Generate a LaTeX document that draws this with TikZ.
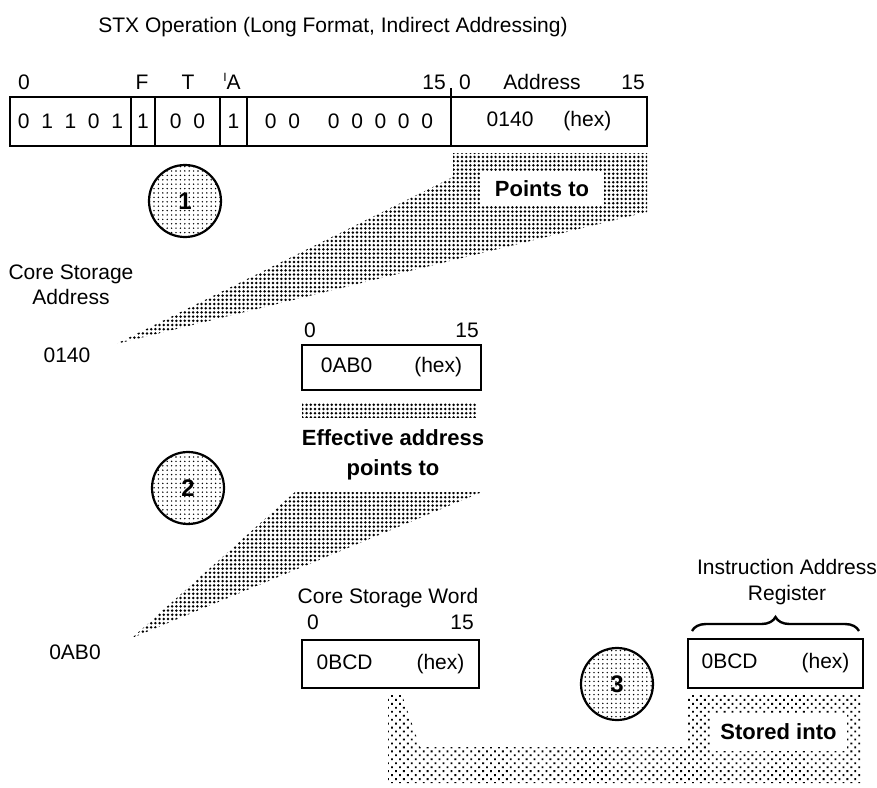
\documentclass[tikz,border=0pt]{standalone}
\usepackage{fontspec}
\setmainfont{Liberation Sans}
\usetikzlibrary{positioning, calc, patterns.meta, decorations.pathreplacing}

\begin{document}
\begin{tikzpicture}[
    x=0.5pt, y=-0.5pt,
    node distance=0pt,
    txt/.style={inner sep=0pt, font=\fontsize{10.5}{12.6}\selectfont},
    note/.style={inner sep=0pt, align=center, font=\fontsize{11}{15}\selectfont\bfseries},
    field/.style={rectangle, draw, line width=1.1pt, outer sep=0pt, inner sep=0pt, minimum height=24.5pt, font=\fontsize{10.5}{12.6}\selectfont},
    stepno/.style={circle, draw, line width=1.1pt, minimum size=36pt, inner sep=0pt, pattern={Dots[distance=2.2pt, radius=0.4pt]}, font=\fontsize{12}{12}\selectfont\bfseries},
    band/.style={pattern={Dots[distance=2.1pt, radius=0.68pt]}},
    checker/.style={pattern={Dots[distance=2.8pt, angle=45, radius=0.65pt]}},
    hole/.style={fill=white, inner sep=0pt, font=\fontsize{11}{13}\selectfont\bfseries}
]
    \fill[white] (0,0) rectangle (877,787);
    \useasboundingbox (0,0) rectangle (877,787);

    \node [txt] (title) at (333,27) {STX Operation (Long Format, Indirect Addressing)};

    % instruction word
    \node [field, minimum width=60.5pt, anchor=west] (opc) at (10,121.5) {0~~1~~1~~0~~1};
    \node [field, minimum width=12pt, right=of opc] (fbit) {1};
    \node [field, minimum width=32.5pt, right=of fbit] (tbit) {0~~0};
    \node [field, minimum width=13.5pt, right=of tbit] (iabit) {1};
    \node [field, minimum width=102pt, right=of iabit] (disp) {0~~0\hspace{14pt}0~~0~~0~~0~~0};
    \node [field, minimum width=98pt, right=of disp] (addr) {0140\hspace{15pt}(hex)};
    \draw [line width=1.1pt] (addr.north west) -- ++(0,-9);

    \node [txt, anchor=base] (lb0) at (24,89) {0};
    \node [txt, anchor=base] (lbf) at (142,89) {F};
    \node [txt, anchor=base] (lbt) at (188,89) {T};
    \node [txt, anchor=base] (lbia) at (232,89) {\raisebox{4pt}{\fontsize{6}{6}\selectfont I}A};
    \node [txt, anchor=base] (lb15) at (434,89) {15};
    \node [txt, anchor=base] (lb0b) at (465,89) {0};
    \node [txt, anchor=base] (lbad) at (542,89) {Address};
    \node [txt, anchor=base] (lb15b) at (633,89) {15};

    % step 1
    \coordinate (tip1) at (116,344);
    \path [band] (453,153) -- (647,153) -- (647,212) -- (tip1) -- (453,177) -- cycle;
    \node [hole, minimum width=62pt, minimum height=16.5pt] (ptr) at (542,188.5) {Points to};
    \node [stepno] (s1) at (185,201) {1};

    \node [txt, align=center] (csa) at (71,285) {Core Storage\\Address};
    \node [txt] (a0140) at (67,355) {0140};

    \node [field, minimum width=89.5pt, minimum height=22.5pt] (ind) at (391.5,367.5) {0AB0\hspace{21pt}(hex)};
    \node [txt, anchor=base] (ind0) at (310,337) {0};
    \node [txt, anchor=base] (ind15) at (467,337) {15};
    \path [band] (302,402) rectangle (477,417);
    \node [note] (eff) at (393,455) {Effective address\\points to};

    % step 2
    \coordinate (tip2) at (132,638);
    \path [band] (295,492) -- (482,492) -- (tip2) -- cycle;
    \node [stepno] (s2) at (188,488) {2};
    \node [txt] (a0ab0) at (75,652) {0AB0};

    \node [txt] (csw) at (388,598) {Core Storage Word};
    \node [txt, anchor=base] (word0) at (313,629) {0};
    \node [txt, anchor=base] (word15) at (462,629) {15};
    \node [field, minimum width=88.5pt, minimum height=24pt] (word) at (390.5,664) {0BCD\hspace{22pt}(hex)};

    % step 3
    \node [stepno] (s3) at (617,684) {3};
    \node [txt, align=center] (iarl) at (787,582) {Instruction Address\\Register};
    \node [field, minimum width=87.5pt, minimum height=24.5pt] (iar) at (775.5,663.5) {0BCD\hspace{22pt}(hex)};
    \draw [decorate, decoration={brace, amplitude=7pt}, line width=1.2pt]
        ([xshift=2pt, yshift=4pt]iar.north west) -- ([xshift=-2pt, yshift=4pt]iar.north east);

    \path [checker] (388,695) -- (402,695) -- (420,747) -- (688,747) -- (688,695) -- (862,695) -- (862,783) -- (388,783) -- cycle;
    \node [hole, minimum width=68.5pt, minimum height=19pt] (sto) at (778.5,732) {Stored into};
\end{tikzpicture}
\end{document}
